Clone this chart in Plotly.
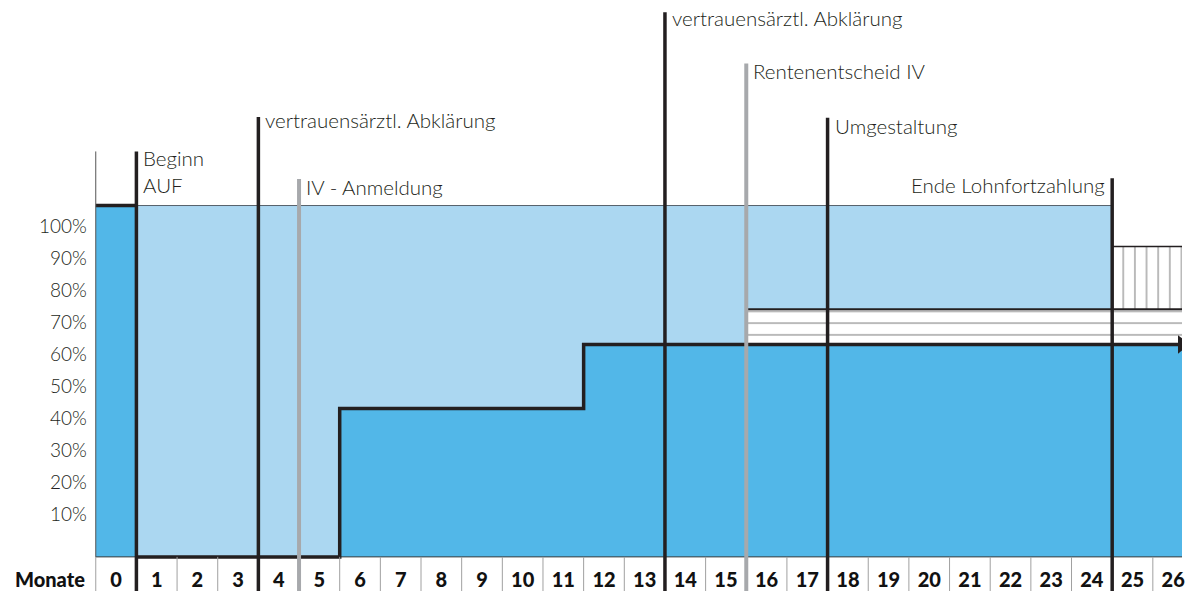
import plotly.graph_objects as go

# ---------------- data ----------------
months = list(range(0, 27))
month_labels = [str(m) for m in months]
axis_title = "Monate"

y_ticks = [10, 20, 30, 40, 50, 60, 70, 80, 90, 100]
y_tick_labels = [f"{v}%" for v in y_ticks]

# levels in % (y scale of the drawing)
base_level = -3.4          # bottom of the coloured band
salary_level = 106.4       # Lohnfortzahlung level
salary_start = 1
salary_end = 25

benefit_x = [1, 6, 12]             # month where each benefit step starts
benefit_y = [-3.4, 43.0, 63.0]     # benefit level of each step

pension_start = 16                 # Rente IV (horizontal hatch)
pension_top = 74.0
bvg_start = 25                     # after Lohnfortzahlung (vertical hatch)
bvg_top = 93.6

event_x = [1, 4, 5, 14, 16, 18, 25]
event_labels = ["Beginn<br>AUF", "vertrauensärztl. Abklärung", "IV - Anmeldung",
                "vertrauensärztl. Abklärung", "Rentenentscheid IV", "Umgestaltung",
                "Ende Lohnfortzahlung"]
event_is_iv = [False, False, True, False, True, False, False]
event_top = [123.3, 134.1, 114.7, 166.8, 150.8, 133.8, 114.9]
event_label_y = [116.9, 133.1, 112.3, 165.0, 148.3, 131.1, 112.8]

# ---------------- layout constants ----------------
W, H = 1185, 591
MONTH_PX = 40.76
X0_PX = 96
ZERO_PX = 546
PCT_PX = 3.2
x_range = [-X0_PX / MONTH_PX, (W - X0_PX) / MONTH_PX]
y_range = [-(H - ZERO_PX) / PCT_PX, ZERO_PX / PCT_PX]
x_end = x_range[1]

DARK = "#52B7E8"
LIGHT = "#ABD7F1"
BLACK = "#231F20"
GRAY = "#A7A9AC"
FONT = "Lato"

fig = go.Figure()

# light blue: salary continuation
fig.add_trace(go.Scatter(
    x=[salary_start, salary_end, salary_end, salary_start],
    y=[base_level, base_level, salary_level, salary_level],
    fill="toself", fillcolor=LIGHT, mode="none", hoverinfo="skip"))

# month 0: full salary
fig.add_trace(go.Scatter(
    x=[months[0], months[1], months[1], months[0]],
    y=[base_level, base_level, salary_level, salary_level],
    fill="toself", fillcolor=DARK, mode="none", hoverinfo="skip"))

# dark blue: benefit steps
px_, py_ = [benefit_x[1]], [base_level]
for i in range(1, len(benefit_x)):
    nxt = benefit_x[i + 1] if i + 1 < len(benefit_x) else x_end
    px_ += [benefit_x[i], nxt]
    py_ += [benefit_y[i], benefit_y[i]]
px_ += [x_end]
py_ += [base_level]
fig.add_trace(go.Scatter(x=px_, y=py_, fill="toself", fillcolor=DARK,
                         mode="none", hoverinfo="skip"))

# horizontal hatch (IV pension)
fig.add_trace(go.Scatter(
    x=[pension_start, x_end, x_end, pension_start],
    y=[benefit_y[-1], benefit_y[-1], pension_top, pension_top],
    fill="toself", fillcolor="white", mode="none", hoverinfo="skip",
    fillpattern=dict(shape="-", size=11.75, solidity=0.1, fgcolor="#8C8C8C",
                     bgcolor="white", fillmode="replace")))

# vertical hatch
fig.add_trace(go.Scatter(
    x=[bvg_start, x_end, x_end, bvg_start],
    y=[pension_top, pension_top, bvg_top, bvg_top],
    fill="toself", fillcolor="white", mode="none", hoverinfo="skip",
    fillpattern=dict(shape="|", size=11.64, solidity=0.1, fgcolor="#8C8C8C",
                     bgcolor="white", fillmode="replace")))

# outlines
fig.add_trace(go.Scatter(x=[salary_start, salary_end], y=[salary_level, salary_level],
                         mode="lines", line=dict(color="#56616B", width=1), hoverinfo="skip"))
fig.add_trace(go.Scatter(x=[months[0], months[1]], y=[salary_level, salary_level],
                         mode="lines", line=dict(color=BLACK, width=3.5), hoverinfo="skip"))
fig.add_trace(go.Scatter(x=[months[0], x_end], y=[base_level, base_level],
                         mode="lines", line=dict(color="#3A3A3A", width=1), hoverinfo="skip"))
fig.add_trace(go.Scatter(x=[pension_start, x_end], y=[pension_top, pension_top],
                         mode="lines", line=dict(color=BLACK, width=2), hoverinfo="skip"))
fig.add_trace(go.Scatter(x=[bvg_start, x_end], y=[bvg_top, bvg_top],
                         mode="lines", line=dict(color=BLACK, width=1.5), hoverinfo="skip"))

# benefit step line with arrow
fig.add_trace(go.Scatter(x=benefit_x + [x_end], y=benefit_y + [benefit_y[-1]],
                         mode="lines", line=dict(color=BLACK, width=3.5, shape="hv"),
                         hoverinfo="skip"))
fig.add_trace(go.Scatter(x=[x_end], y=[benefit_y[-1]], mode="markers",
                         marker=dict(symbol="triangle-right", size=16, color=BLACK),
                         hoverinfo="skip"))

shapes = []
# month separators in the bottom strip
for m in months:
    shapes.append(dict(type="line", xref="x", yref="y", x0=m, x1=m,
                       y0=y_range[0], y1=base_level,
                       line=dict(color="#A0A0A0", width=1), layer="above"))
# left border at month 0
shapes.append(dict(type="line", xref="x", yref="y", x0=months[0], x1=months[0],
                   y0=base_level, y1=event_top[0],
                   line=dict(color="#555555", width=1), layer="above"))
# event lines
for ex, iv, top in zip(event_x, event_is_iv, event_top):
    shapes.append(dict(type="line", xref="x", yref="y", x0=ex, x1=ex,
                       y0=y_range[0], y1=top,
                       line=dict(color=GRAY if iv else BLACK, width=4 if iv else 3.5),
                       layer="above"))

annotations = []
for ex, lab, ly in zip(event_x, event_labels, event_label_y):
    right = ex == salary_end
    annotations.append(dict(
        x=ex, y=ly, xref="x", yref="y", text=lab, showarrow=False,
        xanchor="right" if right else "left", yanchor="middle", align="left",
        xshift=-5 if right else 5,
        font=dict(family=FONT, size=20.5, color=BLACK, weight=300)))
annotations.append(dict(
    x=-(X0_PX - 87) / MONTH_PX, y=-10.3, xref="x", yref="y", text=axis_title,
    showarrow=False, xanchor="right", yanchor="middle",
    font=dict(family=FONT, size=20, color="#111111", weight=900)))

fig.update_layout(
    width=W, height=H, margin=dict(l=0, r=0, t=0, b=0),
    paper_bgcolor="white", plot_bgcolor="white", showlegend=False,
    shapes=shapes, annotations=annotations,
    xaxis=dict(range=x_range, tickvals=[m + 0.5 for m in months], ticktext=month_labels,
               anchor="free", position=(H - 566) / H, showline=False, ticks="",
               showgrid=False, zeroline=False, fixedrange=True,
               ticklabeloverflow="allow",
               tickfont=dict(family=FONT, size=20, color="#111111", weight=900)),
    yaxis=dict(range=y_range, tickvals=y_ticks, ticktext=y_tick_labels,
               anchor="free", position=X0_PX / W, side="left", showline=False,
               ticks="", ticklabelstandoff=9, showgrid=False, zeroline=False,
               fixedrange=True,
               tickfont=dict(family=FONT, size=19, color=BLACK, weight=300)),
)

fig.write_html("out.html", config={"displayModeBar": False},
               post_script="document.body.style.margin='0';document.body.style.overflow='hidden';")
